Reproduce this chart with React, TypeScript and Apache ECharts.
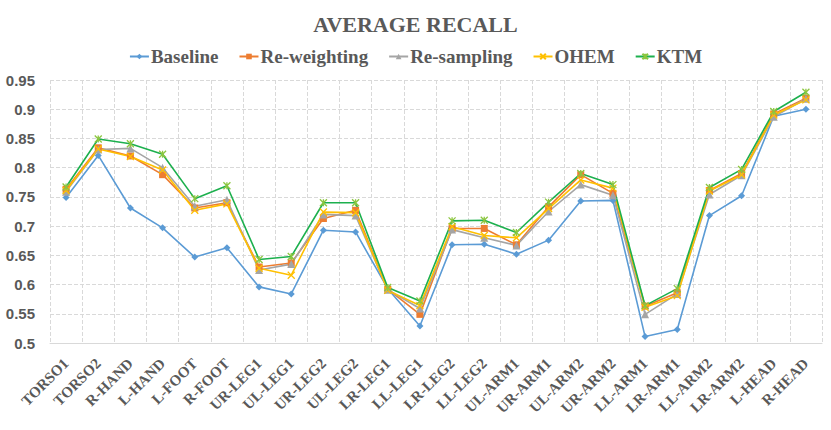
import React, { useEffect, useRef } from "react";
import * as echarts from "echarts";

const categories = [
  "TORSO1", "TORSO2", "R-HAND", "L-HAND", "L-FOOT", "R-FOOT", "UR-LEG1", "UL-LEG1",
  "UR-LEG2", "UL-LEG2", "LR-LEG1", "LL-LEG1", "LR-LEG2", "LL-LEG2", "UL-ARM1", "UR-ARM1",
  "UL-ARM2", "UR-ARM2", "LL-ARM1", "LR-ARM1", "LL-ARM2", "LR-ARM2", "L-HEAD", "R-HEAD",
];

const baseline = [0.749, 0.821, 0.731, 0.697, 0.647, 0.663, 0.596, 0.584, 0.693, 0.690, 0.593, 0.529, 0.668, 0.669, 0.652, 0.676, 0.743, 0.744, 0.511, 0.523, 0.718, 0.752, 0.888, 0.900];
const reweighting = [0.763, 0.834, 0.820, 0.788, 0.731, 0.740, 0.630, 0.637, 0.713, 0.727, 0.592, 0.549, 0.696, 0.696, 0.668, 0.733, 0.788, 0.756, 0.563, 0.586, 0.761, 0.790, 0.892, 0.919];
const resampling = [0.759, 0.831, 0.833, 0.800, 0.734, 0.745, 0.625, 0.635, 0.720, 0.718, 0.591, 0.559, 0.694, 0.680, 0.667, 0.725, 0.771, 0.753, 0.549, 0.584, 0.754, 0.787, 0.887, 0.918];
const ohem = [0.761, 0.832, 0.819, 0.796, 0.727, 0.738, 0.628, 0.616, 0.724, 0.723, 0.590, 0.564, 0.699, 0.684, 0.680, 0.730, 0.779, 0.765, 0.561, 0.581, 0.760, 0.788, 0.890, 0.916];
const ktm = [0.767, 0.849, 0.841, 0.823, 0.747, 0.769, 0.643, 0.648, 0.740, 0.740, 0.595, 0.572, 0.709, 0.710, 0.689, 0.741, 0.790, 0.771, 0.564, 0.593, 0.766, 0.797, 0.896, 0.929];

const seriesNames = ["Baseline", "Re-weighting", "Re-sampling", "OHEM", "KTM"];
const yTicks = { min: 0.5, max: 0.95, interval: 0.05 };

const X_SYMBOL = "path://M0,0L10,10M10,0L0,10";
const STAR_SYMBOL = "path://M0,0L10,10M10,0L0,10M5,0L5,10";

export default function App() {
  const ref = useRef<HTMLDivElement>(null);

  useEffect(() => {
    document.body.style.margin = "0";
    if (!ref.current) return;
    const chart = echarts.init(ref.current, null, { renderer: "svg" });
    const serif = "'Liberation Serif', 'DejaVu Serif', serif";
    const sans = "'Liberation Sans', 'DejaVu Sans', sans-serif";
    const grey = "#595959";

    const mk = (name: string, data: number[], color: string, symbol: string, size: number, itemStyle: any = {}) => ({
      name,
      type: "line",
      data,
      symbol,
      symbolSize: size,
      lineStyle: { color, width: 1.6 },
      itemStyle: { color, borderColor: color, borderWidth: 0, ...itemStyle },
    });

    chart.setOption({
      animation: false,
      backgroundColor: "#ffffff",
      title: {
        text: "AVERAGE RECALL",
        left: "center",
        top: 8,
        textStyle: { fontFamily: serif, fontWeight: "bold", fontSize: 22, color: grey },
      },
      legend: {
        top: 42,
        left: "center",
        itemWidth: 19,
        itemHeight: 7,
        itemGap: 20,
        data: seriesNames,
        textStyle: { fontFamily: serif, fontWeight: "bold", fontSize: 19, color: grey, padding: [0, 0, 0, -3] },
      },
      grid: { left: 50, right: 9, top: 80, bottom: 87 },
      xAxis: {
        type: "category",
        data: categories,
        boundaryGap: true,
        axisLine: { lineStyle: { color: "#d9d9d9" } },
        axisTick: { show: false },
        splitLine: { show: true, lineStyle: { color: "#d9d9d9", type: "dashed" } },
        axisLabel: {
          rotate: 45,
          interval: 0,
          margin: 18,
          fontFamily: serif,
          fontWeight: "bold",
          fontSize: 15,
          color: grey,
        },
      },
      yAxis: {
        type: "value",
        min: yTicks.min,
        max: yTicks.max,
        interval: yTicks.interval,
        axisLine: { show: false },
        axisTick: { show: false },
        splitLine: { lineStyle: { color: "#d9d9d9", type: "dashed" } },
        axisLabel: {
          margin: 15,
          fontFamily: sans,
          fontWeight: "bold",
          fontSize: 15,
          color: grey,
          formatter: (v: number) => String(parseFloat(v.toFixed(2))),
        },
      },
      series: [
        mk(seriesNames[0], baseline, "#5B9BD5", "diamond", 7),
        mk(seriesNames[1], reweighting, "#ED7D31", "rect", 7),
        mk(seriesNames[2], resampling, "#A5A5A5", "triangle", 8),
        mk(seriesNames[3], ohem, "#FFC000", X_SYMBOL, 7, { borderWidth: 1.3 }),
        mk(seriesNames[4], ktm, "#1DB04E", STAR_SYMBOL, 7, { color: "#8CC63F", borderColor: "#8CC63F", borderWidth: 1.3 }),
      ],
    });
    return () => chart.dispose();
  }, []);

  return (
    <div
      style={{
        width: 831,
        height: 430,
        boxSizing: "border-box",
        border: "2px solid #8a8a8a",
        background: "#fff",
        position: "relative",
      }}
    >
      <div ref={ref} style={{ position: "absolute", left: -2, top: -2, width: 831, height: 430 }} />
    </div>
  );
}
